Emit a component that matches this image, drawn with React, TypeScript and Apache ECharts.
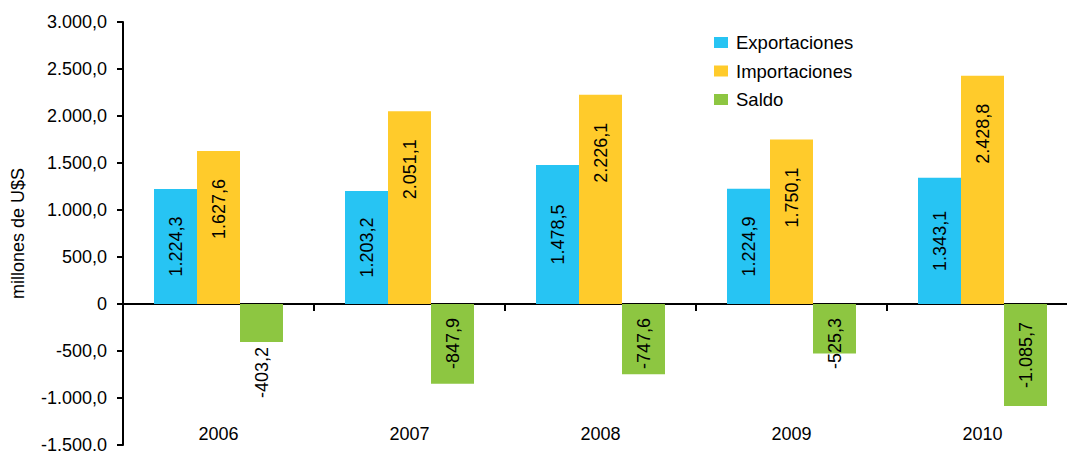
import React, { useEffect, useRef } from "react";
import * as echarts from "echarts";

const years = ["2006", "2007", "2008", "2009", "2010"];
const exportaciones = [1224.3, 1203.2, 1478.5, 1224.9, 1343.1];
const importaciones = [1627.6, 2051.1, 2226.1, 1750.1, 2428.8];
const saldo = [-403.2, -847.9, -747.6, -525.3, -1085.7];
const saldoLabelPos = ["bottom", "insideTop", "insideTop", "insideTop", "inside"];

const FONT = "'Liberation Sans', Arial, sans-serif";

function fmt(v: number): string {
  const s = Math.abs(v).toFixed(1);
  const [i, d] = s.split(".");
  const ii = i.replace(/\B(?=(\d{3})+(?!\d))/g, ".");
  return (v < 0 ? "-" : "") + ii + "," + d;
}

export default function App() {
  const ref = useRef<HTMLDivElement>(null);
  useEffect(() => {
    if (!ref.current) return;
    const chart = echarts.init(ref.current, undefined, { renderer: "svg" });
    const labelBase = {
      show: true,
      rotate: 90,
      fontSize: 18,
      fontFamily: FONT,
      color: "#000",
      formatter: (p: any) => fmt(p.value),
    };
    chart.setOption({
      animation: false,
      textStyle: { fontFamily: FONT },
      grid: {
        left: 123,
        right: -11,
        top: 22,
        bottom: 6,
        containLabel: false,
        outerBoundsMode: "none",
      },
      legend: {
        orient: "vertical",
        left: 714,
        top: 33,
        padding: 0,
        itemWidth: 14,
        itemHeight: 11,
        itemGap: 9.5,
        icon: "rect",
        textStyle: { fontSize: 18.5, color: "#000", fontFamily: FONT, padding: [0, 0, 0, 3] },
        data: ["Exportaciones", "Importaciones", "Saldo"],
      },
      xAxis: [
        {
          type: "category",
          data: years,
          position: "bottom",
          axisLine: { show: false, onZero: false },
          axisTick: { show: false },
          axisLabel: { margin: -20, fontSize: 18, color: "#000", fontFamily: FONT },
        },
        {
          type: "category",
          data: years,
          position: "bottom",
          axisLine: { show: true, onZero: true, lineStyle: { color: "#000", width: 2 } },
          axisTick: { show: true, length: 7, interval: 0, lineStyle: { color: "#000", width: 2 } },
          axisLabel: { show: false },
        },
      ],
      yAxis: {
        type: "value",
        min: -1500,
        max: 3000,
        interval: 500,
        name: "millones de U$S",
        nameLocation: "middle",
        nameGap: 96,
        nameTextStyle: { fontSize: 18, color: "#000", fontFamily: FONT },
        axisLine: { show: true, lineStyle: { color: "#000", width: 2 } },
        axisTick: { show: true, length: 6, lineStyle: { color: "#000", width: 2 } },
        splitLine: { show: false },
        axisLabel: {
          margin: 16,
          fontSize: 18,
          color: "#000",
          fontFamily: FONT,
          formatter: (v: number) => (v === 0 ? "0" : fmt(v)),
        },
      },
      series: [
        {
          name: "Exportaciones",
          type: "bar",
          xAxisIndex: 0,
          barWidth: 43,
          barGap: "0%",
          itemStyle: { color: "#27C4F3" },
          label: { ...labelBase, position: "inside" },
          data: exportaciones,
        },
        {
          name: "Importaciones",
          type: "bar",
          xAxisIndex: 0,
          barWidth: 43,
          barGap: "0%",
          itemStyle: { color: "#FFCB2B" },
          label: {
            ...labelBase,
            position: "insideTop",
            distance: 28,
            align: "right",
            verticalAlign: "middle",
          },
          data: importaciones,
        },
        {
          name: "Saldo",
          type: "bar",
          xAxisIndex: 0,
          barWidth: 43,
          barGap: "0%",
          itemStyle: { color: "#8DC641" },
          data: saldo.map((v, i) => {
            const pos = saldoLabelPos[i];
            const lab: any = { ...labelBase, position: pos };
            if (pos === "bottom") {
              lab.distance = 5;
              lab.align = "right";
              lab.verticalAlign = "middle";
            } else if (pos === "insideTop") {
              lab.distance = 14;
              lab.align = "right";
              lab.verticalAlign = "middle";
            }
            return { value: v, label: lab };
          }),
        },
      ],
    });
    return () => chart.dispose();
  }, []);
  return <div ref={ref} style={{ width: 1067, height: 451, position: "absolute", left: 0, top: 0 }} />;
}
